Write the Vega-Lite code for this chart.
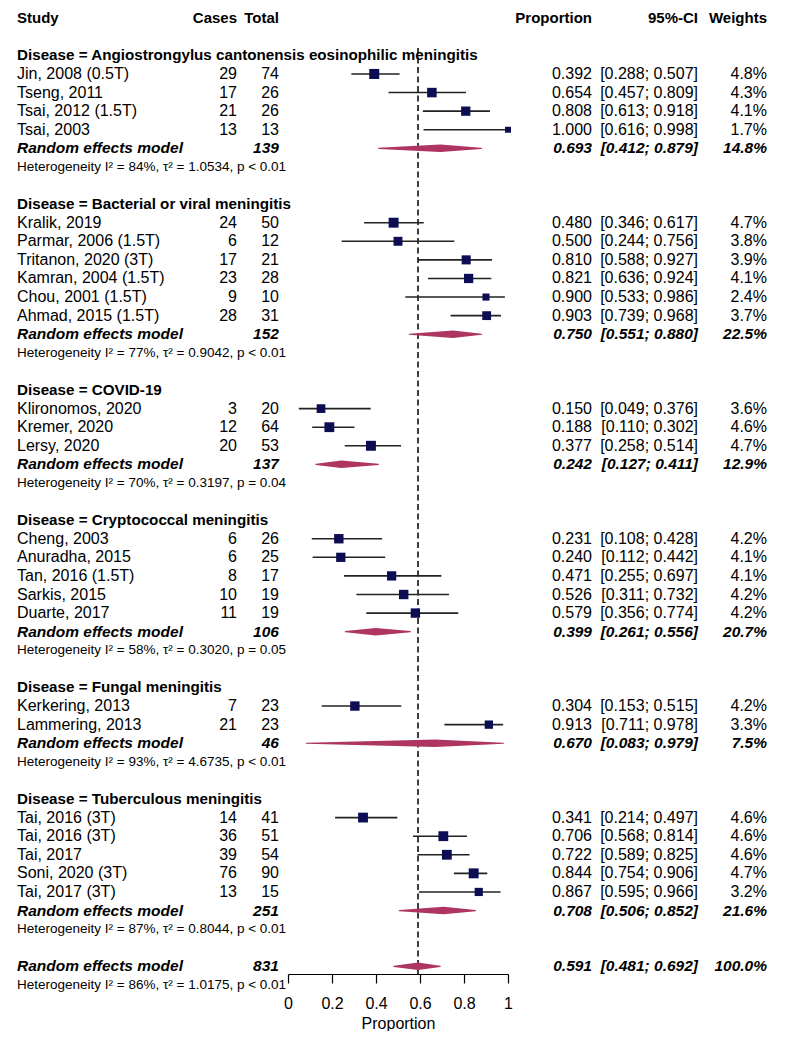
{
  "$schema": "https://vega.github.io/schema/vega-lite/v6.json",
  "width": 787,
  "height": 974,
  "padding": 0,
  "config": {
    "view": {"stroke": null},
    "font": "Liberation Sans",
    "text": {"font": "Liberation Sans", "fontSize": 16, "color": "#000000", "baseline": "middle"}
  },
  "data": {
    "values": [
      {"row": 0, "type": "header", "label": "Study", "hCases": "Cases", "hTotal": "Total", "hProp": "Proportion", "hCI": "95%-CI", "hW": "Weights"},
      {"row": 2, "type": "heading", "label": "Disease = Angiostrongylus cantonensis eosinophilic meningitis"},
      {"row": 3, "type": "study", "label": "Jin, 2008 (0.5T)", "cases": 29, "total": 74, "est": 0.392, "lower": 0.288, "upper": 0.507, "weight": 4.8},
      {"row": 4, "type": "study", "label": "Tseng, 2011", "cases": 17, "total": 26, "est": 0.654, "lower": 0.457, "upper": 0.809, "weight": 4.3},
      {"row": 5, "type": "study", "label": "Tsai, 2012 (1.5T)", "cases": 21, "total": 26, "est": 0.808, "lower": 0.613, "upper": 0.918, "weight": 4.1},
      {"row": 6, "type": "study", "label": "Tsai, 2003", "cases": 13, "total": 13, "est": 1.0, "lower": 0.616, "upper": 0.998, "weight": 1.7},
      {"row": 7, "type": "rem", "label": "Random effects model", "total": 139, "est": 0.693, "lower": 0.412, "upper": 0.879, "weight": 14.8},
      {"row": 8, "type": "het", "label": "Heterogeneity I² = 84%, τ² = 1.0534, p < 0.01"},
      {"row": 10, "type": "heading", "label": "Disease = Bacterial or viral meningitis"},
      {"row": 11, "type": "study", "label": "Kralik, 2019", "cases": 24, "total": 50, "est": 0.48, "lower": 0.346, "upper": 0.617, "weight": 4.7},
      {"row": 12, "type": "study", "label": "Parmar, 2006 (1.5T)", "cases": 6, "total": 12, "est": 0.5, "lower": 0.244, "upper": 0.756, "weight": 3.8},
      {"row": 13, "type": "study", "label": "Tritanon, 2020 (3T)", "cases": 17, "total": 21, "est": 0.81, "lower": 0.588, "upper": 0.927, "weight": 3.9},
      {"row": 14, "type": "study", "label": "Kamran, 2004 (1.5T)", "cases": 23, "total": 28, "est": 0.821, "lower": 0.636, "upper": 0.924, "weight": 4.1},
      {"row": 15, "type": "study", "label": "Chou, 2001 (1.5T)", "cases": 9, "total": 10, "est": 0.9, "lower": 0.533, "upper": 0.986, "weight": 2.4},
      {"row": 16, "type": "study", "label": "Ahmad, 2015 (1.5T)", "cases": 28, "total": 31, "est": 0.903, "lower": 0.739, "upper": 0.968, "weight": 3.7},
      {"row": 17, "type": "rem", "label": "Random effects model", "total": 152, "est": 0.75, "lower": 0.551, "upper": 0.88, "weight": 22.5},
      {"row": 18, "type": "het", "label": "Heterogeneity I² = 77%, τ² = 0.9042, p < 0.01"},
      {"row": 20, "type": "heading", "label": "Disease = COVID-19"},
      {"row": 21, "type": "study", "label": "Klironomos, 2020", "cases": 3, "total": 20, "est": 0.15, "lower": 0.049, "upper": 0.376, "weight": 3.6},
      {"row": 22, "type": "study", "label": "Kremer, 2020", "cases": 12, "total": 64, "est": 0.188, "lower": 0.11, "upper": 0.302, "weight": 4.6},
      {"row": 23, "type": "study", "label": "Lersy, 2020", "cases": 20, "total": 53, "est": 0.377, "lower": 0.258, "upper": 0.514, "weight": 4.7},
      {"row": 24, "type": "rem", "label": "Random effects model", "total": 137, "est": 0.242, "lower": 0.127, "upper": 0.411, "weight": 12.9},
      {"row": 25, "type": "het", "label": "Heterogeneity I² = 70%, τ² = 0.3197, p = 0.04"},
      {"row": 27, "type": "heading", "label": "Disease = Cryptococcal meningitis"},
      {"row": 28, "type": "study", "label": "Cheng, 2003", "cases": 6, "total": 26, "est": 0.231, "lower": 0.108, "upper": 0.428, "weight": 4.2},
      {"row": 29, "type": "study", "label": "Anuradha, 2015", "cases": 6, "total": 25, "est": 0.24, "lower": 0.112, "upper": 0.442, "weight": 4.1},
      {"row": 30, "type": "study", "label": "Tan, 2016 (1.5T)", "cases": 8, "total": 17, "est": 0.471, "lower": 0.255, "upper": 0.697, "weight": 4.1},
      {"row": 31, "type": "study", "label": "Sarkis, 2015", "cases": 10, "total": 19, "est": 0.526, "lower": 0.311, "upper": 0.732, "weight": 4.2},
      {"row": 32, "type": "study", "label": "Duarte, 2017", "cases": 11, "total": 19, "est": 0.579, "lower": 0.356, "upper": 0.774, "weight": 4.2},
      {"row": 33, "type": "rem", "label": "Random effects model", "total": 106, "est": 0.399, "lower": 0.261, "upper": 0.556, "weight": 20.7},
      {"row": 34, "type": "het", "label": "Heterogeneity I² = 58%, τ² = 0.3020, p = 0.05"},
      {"row": 36, "type": "heading", "label": "Disease = Fungal meningitis"},
      {"row": 37, "type": "study", "label": "Kerkering, 2013", "cases": 7, "total": 23, "est": 0.304, "lower": 0.153, "upper": 0.515, "weight": 4.2},
      {"row": 38, "type": "study", "label": "Lammering, 2013", "cases": 21, "total": 23, "est": 0.913, "lower": 0.711, "upper": 0.978, "weight": 3.3},
      {"row": 39, "type": "rem", "label": "Random effects model", "total": 46, "est": 0.67, "lower": 0.083, "upper": 0.979, "weight": 7.5},
      {"row": 40, "type": "het", "label": "Heterogeneity I² = 93%, τ² = 4.6735, p < 0.01"},
      {"row": 42, "type": "heading", "label": "Disease = Tuberculous meningitis"},
      {"row": 43, "type": "study", "label": "Tai, 2016 (3T)", "cases": 14, "total": 41, "est": 0.341, "lower": 0.214, "upper": 0.497, "weight": 4.6},
      {"row": 44, "type": "study", "label": "Tai, 2016 (3T)", "cases": 36, "total": 51, "est": 0.706, "lower": 0.568, "upper": 0.814, "weight": 4.6},
      {"row": 45, "type": "study", "label": "Tai, 2017", "cases": 39, "total": 54, "est": 0.722, "lower": 0.589, "upper": 0.825, "weight": 4.6},
      {"row": 46, "type": "study", "label": "Soni, 2020 (3T)", "cases": 76, "total": 90, "est": 0.844, "lower": 0.754, "upper": 0.906, "weight": 4.7},
      {"row": 47, "type": "study", "label": "Tai, 2017 (3T)", "cases": 13, "total": 15, "est": 0.867, "lower": 0.595, "upper": 0.966, "weight": 3.2},
      {"row": 48, "type": "rem", "label": "Random effects model", "total": 251, "est": 0.708, "lower": 0.506, "upper": 0.852, "weight": 21.6},
      {"row": 49, "type": "het", "label": "Heterogeneity I² = 87%, τ² = 0.8044, p < 0.01"},
      {"row": 51, "type": "overall", "label": "Random effects model", "total": 831, "est": 0.591, "lower": 0.481, "upper": 0.692, "weight": 100.0},
      {"row": 52, "type": "het", "label": "Heterogeneity I² = 86%, τ² = 1.0175, p < 0.01"}
    ]
  },
  "transform": [
    {"calculate": "isValid(datum.lower) ? '[' + format(datum.lower, '.3f') + '; ' + format(datum.upper, '.3f') + ']' : ''", "as": "ci"},
    {"calculate": "isValid(datum.weight) ? format(datum.weight, '.1f') + '%' : ''", "as": "wt"}
  ],
  "encoding": {
    "y": {"field": "row", "type": "quantitative", "scale": {"domain": [0, 52], "range": [18.2, 984.9], "nice": false, "zero": false}, "axis": null}
  },
  "layer": [
    {
      "transform": [{"filter": "datum.type == 'study'"}],
      "mark": {"type": "rule", "color": "#222222", "strokeWidth": 1.6},
      "encoding": {
        "x": {
          "field": "lower", "type": "quantitative",
          "scale": {"domain": [0, 1], "range": [288, 508], "nice": false, "zero": false},
          "axis": {
            "title": "Proportion", "values": [0, 0.2, 0.4, 0.6, 0.8, 1], "format": "~g", "grid": false,
            "tickSize": 9, "domainColor": "#000000", "tickColor": "#000000", "domainWidth": 1.2, "tickWidth": 1.2,
            "labelColor": "#000000", "labelFontSize": 16, "labelFont": "Liberation Sans", "labelPadding": 12,
            "labelOverlap": false, "labelFlush": false,
            "titleFontSize": 16, "titleFontWeight": "normal", "titleColor": "#000000", "titleFont": "Liberation Sans", "titlePadding": 4
          }
        },
        "x2": {"field": "upper"}
      }
    },
    {
      "transform": [{"filter": "datum.type == 'overall'"}],
      "mark": {"type": "rule", "color": "#2a2a2a", "strokeWidth": 1.8, "strokeDash": [6, 3.5]},
      "encoding": {
        "x": {"field": "est", "type": "quantitative"},
        "y": {"datum": 1.6},
        "y2": {"datum": 51.41}
      }
    },
    {
      "transform": [{"filter": "datum.type == 'study'"}],
      "mark": {"type": "point", "shape": "square", "filled": true, "color": "#0D0D54", "opacity": 1, "strokeWidth": 0},
      "encoding": {
        "x": {"field": "est", "type": "quantitative"},
        "size": {"field": "weight", "type": "quantitative", "scale": {"type": "linear", "domain": [0, 10], "range": [0, 210], "zero": true}, "legend": null}
      }
    },
    {
      "transform": [
        {"filter": "datum.type == 'rem' || datum.type == 'overall'"},
        {"fold": ["lower", "est", "upper"], "as": ["key", "xv"]}
      ],
      "mark": {"type": "trail", "color": "#AE3462"},
      "encoding": {
        "x": {"field": "xv", "type": "quantitative"},
        "size": {"field": "key", "type": "ordinal", "scale": {"type": "ordinal", "domain": ["lower", "est", "upper"], "range": [1.2, 7.5, 1.2]}, "legend": null},
        "detail": {"field": "row", "type": "nominal"}
      }
    },
    {
      "transform": [{"filter": "datum.type == 'header'"}],
      "mark": {"type": "text", "align": "left", "fontWeight": "bold", "fontSize": 15},
      "encoding": {"x": {"datum": -1.23182}, "text": {"field": "label"}}
    },
    {
      "transform": [{"filter": "datum.type == 'header'"}],
      "mark": {"type": "text", "align": "right", "fontWeight": "bold", "fontSize": 15},
      "encoding": {"x": {"datum": -0.23182}, "text": {"field": "hCases"}}
    },
    {
      "transform": [{"filter": "datum.type == 'header'"}],
      "mark": {"type": "text", "align": "right", "fontWeight": "bold", "fontSize": 15},
      "encoding": {"x": {"datum": -0.04091}, "text": {"field": "hTotal"}}
    },
    {
      "transform": [{"filter": "datum.type == 'header'"}],
      "mark": {"type": "text", "align": "right", "fontWeight": "bold", "fontSize": 15},
      "encoding": {"x": {"datum": 1.38182}, "text": {"field": "hProp"}}
    },
    {
      "transform": [{"filter": "datum.type == 'header'"}],
      "mark": {"type": "text", "align": "right", "fontWeight": "bold", "fontSize": 15},
      "encoding": {"x": {"datum": 1.86364}, "text": {"field": "hCI"}}
    },
    {
      "transform": [{"filter": "datum.type == 'header'"}],
      "mark": {"type": "text", "align": "right", "fontWeight": "bold", "fontSize": 15},
      "encoding": {"x": {"datum": 2.17727}, "text": {"field": "hW"}}
    },
    {
      "transform": [{"filter": "datum.type == 'heading'"}],
      "mark": {"type": "text", "align": "left", "fontWeight": "bold", "fontSize": 15.2},
      "encoding": {"x": {"datum": -1.23182}, "text": {"field": "label"}}
    },
    {
      "transform": [{"filter": "datum.type == 'het'"}],
      "mark": {"type": "text", "align": "left", "fontSize": 13.5},
      "encoding": {"x": {"datum": -1.23182}, "text": {"field": "label"}}
    },
    {
      "transform": [{"filter": "datum.type == 'study'"}],
      "mark": {"type": "text", "align": "left"},
      "encoding": {"x": {"datum": -1.23182}, "text": {"field": "label"}}
    },
    {
      "transform": [{"filter": "datum.type == 'study'"}],
      "mark": {"type": "text", "align": "right"},
      "encoding": {"x": {"datum": -0.23182}, "text": {"field": "cases", "type": "quantitative"}}
    },
    {
      "transform": [{"filter": "datum.type == 'study'"}],
      "mark": {"type": "text", "align": "right"},
      "encoding": {"x": {"datum": -0.04091}, "text": {"field": "total", "type": "quantitative"}}
    },
    {
      "transform": [{"filter": "datum.type == 'study'"}],
      "mark": {"type": "text", "align": "right"},
      "encoding": {"x": {"datum": 1.38182}, "text": {"field": "est", "type": "quantitative", "format": ".3f"}}
    },
    {
      "transform": [{"filter": "datum.type == 'study'"}],
      "mark": {"type": "text", "align": "right"},
      "encoding": {"x": {"datum": 1.86364}, "text": {"field": "ci"}}
    },
    {
      "transform": [{"filter": "datum.type == 'study'"}],
      "mark": {"type": "text", "align": "right"},
      "encoding": {"x": {"datum": 2.17727}, "text": {"field": "wt"}}
    },
    {
      "transform": [{"filter": "datum.type == 'rem' || datum.type == 'overall'"}],
      "mark": {"type": "text", "align": "left", "fontWeight": "bold", "fontStyle": "italic", "fontSize": 15.5},
      "encoding": {"x": {"datum": -1.23182}, "text": {"field": "label"}}
    },
    {
      "transform": [{"filter": "datum.type == 'rem' || datum.type == 'overall'"}],
      "mark": {"type": "text", "align": "right", "fontWeight": "bold", "fontStyle": "italic", "fontSize": 15.5},
      "encoding": {"x": {"datum": -0.04091}, "text": {"field": "total", "type": "quantitative"}}
    },
    {
      "transform": [{"filter": "datum.type == 'rem' || datum.type == 'overall'"}],
      "mark": {"type": "text", "align": "right", "fontWeight": "bold", "fontStyle": "italic", "fontSize": 15.5},
      "encoding": {"x": {"datum": 1.38182}, "text": {"field": "est", "type": "quantitative", "format": ".3f"}}
    },
    {
      "transform": [{"filter": "datum.type == 'rem' || datum.type == 'overall'"}],
      "mark": {"type": "text", "align": "right", "fontWeight": "bold", "fontStyle": "italic", "fontSize": 15.5},
      "encoding": {"x": {"datum": 1.86364}, "text": {"field": "ci"}}
    },
    {
      "transform": [{"filter": "datum.type == 'rem' || datum.type == 'overall'"}],
      "mark": {"type": "text", "align": "right", "fontWeight": "bold", "fontStyle": "italic", "fontSize": 15.5},
      "encoding": {"x": {"datum": 2.17727}, "text": {"field": "wt"}}
    }
  ],
  "resolve": {"scale": {"size": "independent"}, "legend": {"size": "independent"}}
}
